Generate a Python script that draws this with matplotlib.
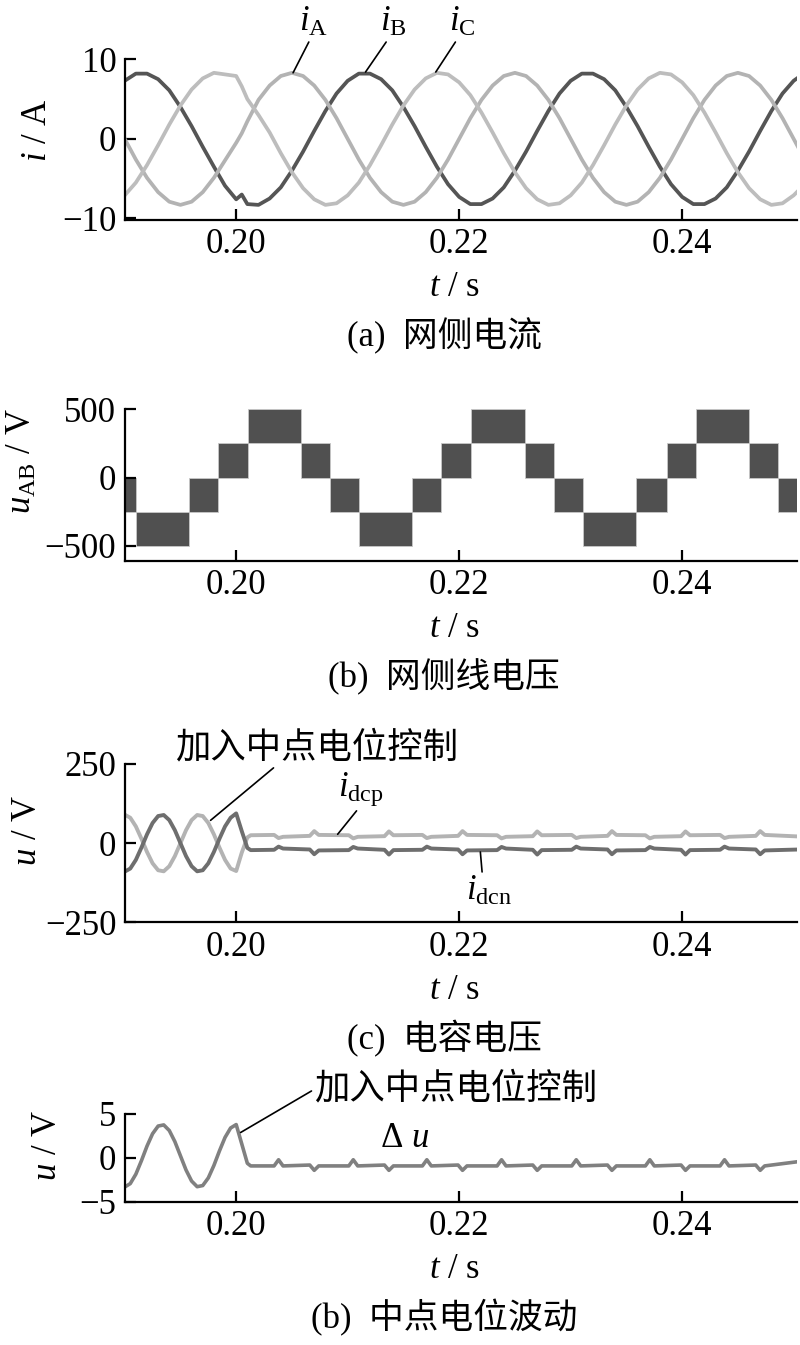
import matplotlib
matplotlib.use("Agg")
import matplotlib.pyplot as plt

plt.rcParams['font.family'] = ['Liberation Serif', 'Noto Sans CJK SC']
plt.rcParams['mathtext.fontset'] = 'custom'
plt.rcParams['mathtext.rm'] = 'Liberation Serif'
plt.rcParams['mathtext.it'] = 'Liberation Serif:italic'

# ---- (a) grid side currents ----
t_a = [0.190, 0.191, 0.192, 0.193, 0.194, 0.195, 0.196, 0.197, 0.198, 0.199,
       0.200, 0.2005,
       0.201, 0.202, 0.203, 0.204, 0.205, 0.206, 0.207, 0.208, 0.209,
       0.210, 0.211, 0.212, 0.213, 0.214, 0.215, 0.216, 0.217, 0.218, 0.219,
       0.220, 0.221, 0.222, 0.223, 0.224, 0.225, 0.226, 0.227, 0.228, 0.229,
       0.230, 0.231, 0.232, 0.233, 0.234, 0.235, 0.236, 0.237, 0.238, 0.239,
       0.240, 0.241, 0.242, 0.243, 0.244, 0.245, 0.246, 0.247, 0.248, 0.249,
       0.250, 0.2505]
i_A = [0.0, -2.6, -4.9, -6.7, -7.9, -8.3, -7.9, -6.7, -4.9, -2.7,
       -0.5, 0.7,
       2.2, 4.9, 6.7, 7.9, 8.3, 7.9, 6.7, 4.9, 2.6,
       0.0, -2.6, -4.9, -6.7, -7.9, -8.3, -7.9, -6.7, -4.9, -2.6,
       0.0, 2.6, 4.9, 6.7, 7.9, 8.3, 7.9, 6.7, 4.9, 2.6,
       0.0, -2.6, -4.9, -6.7, -7.9, -8.3, -7.9, -6.7, -4.9, -2.6,
       0.0, 2.6, 4.9, 6.7, 7.9, 8.3, 7.9, 6.7, 4.9, 2.6,
       0.0, -1.3]
i_B = [7.3, 8.2, 8.2, 7.5, 6.1, 4.0, 1.6, -1.0, -3.5, -5.9,
       -7.6, -7.0,
       -8.2, -8.3, -7.5, -6.1, -4.0, -1.6, 1.0, 3.5, 5.7,
       7.3, 8.2, 8.2, 7.5, 6.1, 4.0, 1.6, -1.0, -3.5, -5.7,
       -7.3, -8.2, -8.2, -7.5, -6.1, -4.0, -1.6, 1.0, 3.5, 5.7,
       7.3, 8.2, 8.2, 7.5, 6.1, 4.0, 1.6, -1.0, -3.5, -5.7,
       -7.3, -8.2, -8.2, -7.5, -6.1, -4.0, -1.6, 1.0, 3.5, 5.7,
       7.3, 7.8]
i_C = [-7.1, -5.5, -3.3, -0.8, 1.8, 4.2, 6.2, 7.6, 8.3, 8.1,
       7.9, 6.6,
       5.0, 3.0, 0.8, -1.8, -4.2, -6.2, -7.6, -8.3, -8.1,
       -7.1, -5.5, -3.3, -0.8, 1.8, 4.2, 6.2, 7.6, 8.3, 8.1,
       7.1, 5.5, 3.3, 0.8, -1.8, -4.2, -6.2, -7.6, -8.3, -8.1,
       -7.1, -5.5, -3.3, -0.8, 1.8, 4.2, 6.2, 7.6, 8.3, 8.1,
       7.1, 5.5, 3.3, 0.8, -1.8, -4.2, -6.2, -7.6, -8.3, -8.1,
       -7.1, -6.4]

# ---- (b) line voltage u_AB (switching bands) ----
ub_edges = [0.1900, 0.1910, 0.1958, 0.1984, 0.2011, 0.2058, 0.2084, 0.2110,
            0.2158, 0.2184, 0.2211, 0.2259, 0.2285, 0.2311, 0.2359, 0.2386,
            0.2412, 0.2460, 0.2486, 0.2505]
ub_low = [-250, -500, -250, 0, 250, 0, -250, -500, -250, 0, 250, 0,
          -250, -500, -250, 0, 250, 0, -250]
ub_high = [0, -250, 0, 250, 500, 250, 0, -250, 0, 250, 500, 250,
           0, -250, 0, 250, 500, 250, 0]

# ---- (c)/(d) capacitor voltages and neutral point ----
t_c = [0.1900, 0.1905, 0.1910, 0.1915, 0.1920, 0.1925, 0.1930, 0.1935,
       0.1940, 0.1945, 0.1950, 0.1955, 0.1960, 0.1965, 0.1970, 0.1975,
       0.1980, 0.1985, 0.1990, 0.1995, 0.2000,
       0.2005, 0.2010, 0.2013,
       0.2034, 0.2038, 0.2042, 0.2066, 0.2070, 0.2074,
       0.2101, 0.2105, 0.2109, 0.2133, 0.2137, 0.2141,
       0.2167, 0.2171, 0.2175, 0.2199, 0.2203, 0.2207,
       0.2234, 0.2238, 0.2242, 0.2266, 0.2270, 0.2274,
       0.2301, 0.2305, 0.2309, 0.2333, 0.2337, 0.2341,
       0.2367, 0.2371, 0.2375, 0.2399, 0.2403, 0.2407,
       0.2434, 0.2438, 0.2442, 0.2466, 0.2470, 0.2474,
       0.2505]
u_dcp = [90, 80.2, 52.9, 14.1, -27.8, -63.6, -85.6, -88.9,
         -72.8, -40.9, 0, 40.9, 72.8, 88.9, 85.6, 63.6,
         27.8, -14.1, -52.9, -80.2, -88,
         -30, 18, 25,
         26, 16, 20, 23, 38, 26,
         25, 15, 20, 22, 37, 25,
         26, 16, 20, 23, 38, 26,
         25, 15, 20, 22, 37, 25,
         26, 16, 20, 23, 38, 26,
         25, 15, 20, 22, 37, 25,
         26, 16, 20, 23, 38, 26,
         21]
u_dcn = [-90, -80.2, -52.9, -14.1, 27.8, 63.6, 85.6, 88.9,
         72.8, 40.9, 0, -40.9, -72.8, -88.9, -85.6, -63.6,
         -27.8, 14.1, 52.9, 80.2, 94,
         38, -15, -22,
         -21, -11, -17, -20, -35, -23,
         -22, -12, -17, -21, -36, -22,
         -21, -11, -17, -20, -35, -23,
         -22, -12, -17, -21, -36, -22,
         -21, -11, -17, -20, -35, -23,
         -22, -12, -17, -21, -36, -22,
         -21, -11, -17, -20, -35, -23,
         -20]
du = [-3.30, -2.91, -1.84, -0.31, 1.35, 2.76, 3.63, 3.76,
      3.12, 1.86, 0.25, -1.36, -2.62, -3.26, -3.13, -2.26,
      -0.85, 0.81, 2.34, 3.41, 3.80,
      1.6, -0.6, -0.9,
      -0.9, -0.2, -0.9, -0.8, -1.4, -0.9,
      -0.9, -0.2, -0.9, -0.8, -1.4, -0.9,
      -0.9, -0.2, -0.9, -0.8, -1.4, -0.9,
      -0.9, -0.2, -0.9, -0.8, -1.4, -0.9,
      -0.9, -0.2, -0.9, -0.8, -1.4, -0.9,
      -0.9, -0.2, -0.9, -0.8, -1.4, -0.9,
      -0.9, -0.2, -0.9, -0.8, -1.4, -0.9,
      -0.4]

W, H = 800, 1345
fig = plt.figure(figsize=(W / 100, H / 100), dpi=100)
FS = 25


def fx(x):
    return x / W


def fy(y):
    return 1 - y / H


def make_ax(top, bottom, ylim, yticks):
    ax = fig.add_axes([fx(124.7), fy(bottom), fx(797) - fx(124.7), (bottom - top) / H])
    ax.set_xlim(0.19, 0.2503)
    ax.set_ylim(*ylim)
    ax.set_xticks([0.20, 0.22, 0.24])
    ax.set_xticklabels(['0.20', '0.22', '0.24'])
    ax.set_yticks(yticks)
    ax.spines['top'].set_visible(False)
    ax.spines['right'].set_visible(False)
    for s in ['left', 'bottom']:
        ax.spines[s].set_linewidth(1.6)
    ax.tick_params(direction='in', length=8, width=1.6, labelsize=FS, pad=6)
    return ax


def leader(ax, text, xytext, xy, relpos, fs=25, ha='center', va='center', **kw):
    ax.annotate(text, xy=xy, xytext=xytext, textcoords='data', ha=ha, va=va,
                fontsize=fs, annotation_clip=False,
                arrowprops=dict(arrowstyle='-', lw=1.2, color='black',
                                shrinkA=0, shrinkB=0, relpos=relpos), **kw)


# (a)
ax1 = make_ax(59.3, 220, (-10.2, 10), [-10, 0, 10])
ax1.plot(t_a, i_B, color='#555555', lw=2.7)
ax1.plot(t_a, i_A, color='#b3b3b3', lw=2.7)
ax1.plot(t_a, i_C, color='#bdbdbd', lw=2.7)
leader(ax1, '$i_{\\mathrm{A}}$', (0.2069, 14.6), (0.2051, 8.3), (0.4, 0))
leader(ax1, '$i_{\\mathrm{B}}$', (0.2141, 14.6), (0.2116, 8.4), (0.3, 0))
leader(ax1, '$i_{\\mathrm{C}}$', (0.2203, 14.6), (0.2179, 8.4), (0.3, 0))

# (b)
ax2 = make_ax(409.3, 561, (-612, 500), [-500, 0, 500])
widths = [b - a for a, b in zip(ub_edges[:-1], ub_edges[1:])]
heights = [h - l for l, h in zip(ub_low, ub_high)]
ax2.bar(ub_edges[:-1], heights, width=widths, bottom=ub_low, align='edge',
        color='#505050', edgecolor='#c8c8c8', linewidth=0.6)

# (c)
ax3 = make_ax(764, 922.3, (-250, 250), [-250, 0, 250])
ax3.plot(t_c, u_dcp, color='#b3b3b3', lw=2.8)
ax3.plot(t_c, u_dcn, color='#6e6e6e', lw=2.8)
leader(ax3, '加入中点电位控制', (0.2072, 300), (0.1977, 72), (0.36, 0),
       fs=25.5, fontweight='light')
leader(ax3, '$i_{\\mathrm{dcp}}$', (0.2112, 170), (0.2091, 28), (0.45, 0))
leader(ax3, '$i_{\\mathrm{dcn}}$', (0.2227, -152), (0.2219, -28), (0.35, 1))

# (d)
ax4 = make_ax(1114, 1202, (-5, 5), [-5, 0, 5])
ax4.plot(t_c, du, color='#808080', lw=2.6)
leader(ax4, '加入中点电位控制', (0.2070, 7.8), (0.2004, 2.9), (0, 0.5),
       fs=25.5, ha='left', fontweight='light')
ax4.text(0.2151, 2.2, 'Δ $u$', fontsize=FS, ha='center', va='center')

# axis titles and captions
ylabels = [('$i$ / A', 38, 130), ('$u_{\\mathrm{AB}}$ / V', 22, 461),
           ('$u$ / V', 27, 830), ('$u$ / V', 47, 1145)]
for txt, x, y in ylabels:
    fig.text(fx(x), fy(y), txt, rotation=90, ha='center', va='center', fontsize=FS)

bottoms = [220, 561, 922.3, 1202]
captions = ['(a)  网侧电流', '(b)  网侧线电压', '(c)  电容电压', '(b)  中点电位波动']
for b, cap in zip(bottoms, captions):
    fig.text(fx(454), fy(b + 68), '$t$ / s', ha='center', va='center', fontsize=FS)
    fig.text(fx(444), fy(b + 116), cap, ha='center', va='center', fontsize=FS,
             fontweight='light')

fig.savefig('out.png', dpi=100)
